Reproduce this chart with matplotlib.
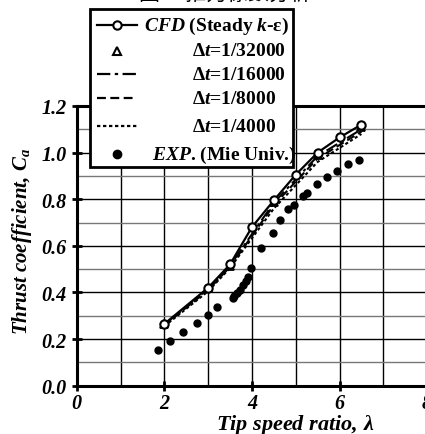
import matplotlib.pyplot as plt
from matplotlib.lines import Line2D
from matplotlib.patches import Rectangle
from matplotlib.ticker import MultipleLocator

plt.rcParams['font.family'] = ['Liberation Serif', 'DejaVu Serif']
plt.rcParams['mathtext.fontset'] = 'custom'
plt.rcParams['mathtext.rm'] = 'Liberation Serif:bold'
plt.rcParams['mathtext.it'] = 'Liberation Serif:italic:bold'
plt.rcParams['mathtext.bf'] = 'Liberation Serif:bold'

# CFD steady k-e
tsr_steady = [2, 3, 3.5, 4, 4.5, 5, 5.5, 6, 6.5]
ca_steady = [0.265, 0.42, 0.52, 0.68, 0.795, 0.905, 1.0, 1.065, 1.12]

# unsteady runs
tsr_unsteady = [2, 3, 3.5, 4.5, 5.5, 6.5]
ca_dt32000 = [0.265, 0.42, 0.515, 0.79, 0.99, 1.11]
ca_dt16000 = [0.262, 0.415, 0.515, 0.785, 0.985, 1.10]
ca_dt8000 = [0.26, 0.41, 0.51, 0.775, 0.975, 1.09]
ca_dt4000 = [0.255, 0.405, 0.505, 0.76, 0.96, 1.08]

# experiment (Mie Univ.)
tsr_exp = [1.86, 2.13, 2.42, 2.74, 3.0, 3.21, 3.56, 3.6, 3.65, 3.73, 3.8, 3.87, 3.92,
           3.99, 4.2, 4.49, 4.65, 4.83, 4.95, 5.17, 5.25, 5.48, 5.71, 5.94, 6.2, 6.45]
ca_exp = [0.153, 0.193, 0.229, 0.269, 0.303, 0.339, 0.378, 0.386, 0.397, 0.412, 0.432,
          0.451, 0.468, 0.505, 0.591, 0.655, 0.711, 0.758, 0.776, 0.815, 0.826, 0.864,
          0.894, 0.923, 0.951, 0.969]

W, H = 425, 435
fig = plt.figure(figsize=(W / 100, H / 100), dpi=100)


def fx(px):
    return px / W


def fy(py):
    return 1 - py / H


ax_h = 386.7 - 107
ax = fig.add_axes([fx(76.7), fy(386.7), 350.4 / W, ax_h / H])

ax.plot(tsr_unsteady, ca_dt16000, color='black', lw=1.5, ls=(0, (6, 2, 1.5, 2)))
ax.plot(tsr_unsteady, ca_dt8000, color='black', lw=1.5, ls=(0, (4, 2)))
ax.plot(tsr_unsteady, ca_dt4000, color='black', lw=1.5, ls=(0, (1.5, 1.2)))
ax.plot(tsr_unsteady, ca_dt32000, ls='none', marker='^', ms=6, mfc='none',
        mec='black', mew=1.3)
ax.plot(tsr_steady, ca_steady, color='black', lw=1.6, marker='o', ms=6,
        mfc='white', mec='black', mew=1.5)
ax.plot(tsr_exp, ca_exp, ls='none', marker='o', ms=5, color='black')

ax.set_xlim(0, 8)
ax.set_ylim(0, 1.2)
ax.xaxis.set_major_locator(MultipleLocator(2))
ax.xaxis.set_minor_locator(MultipleLocator(1))
ax.yaxis.set_major_locator(MultipleLocator(0.2))
ax.yaxis.set_minor_locator(MultipleLocator(0.1))
ax.grid(which='major', color='black', lw=1.0)
ax.grid(which='minor', axis='x', color='black', lw=1.0)
ax.grid(which='minor', axis='y', color='#777777', lw=1.0)
ax.set_axisbelow(True)

for s in ['left', 'bottom', 'top']:
    ax.spines[s].set_linewidth(2.2)
ax.spines['right'].set_visible(False)

ax.tick_params(which='major', direction='inout', length=7, width=2)
ax.tick_params(axis='x', pad=1.5)
ax.tick_params(axis='y', pad=4)
ax.tick_params(which='minor', length=0)
ax.set_xticks([0, 2, 4, 6, 8])
ax.set_xticklabels(['0', '2', '4', '6', '8'])
ax.set_yticks([0, 0.2, 0.4, 0.6, 0.8, 1.0, 1.2])
ax.set_yticklabels(['0.0', '0.2', '0.4', '0.6', '0.8', '1.0', '1.2'])
for lab in ax.get_xticklabels() + ax.get_yticklabels():
    lab.set_fontsize(14.5)
    lab.set_fontstyle('italic')
    lab.set_fontweight('bold')

ax.set_xlabel(r'Tip speed ratio, $\lambda$', fontsize=16, fontstyle='italic',
              fontweight='bold')
ax.xaxis.set_label_coords((295 - 76.7) / 350.4, -(413 - 386.7) / ax_h)
ax.set_ylabel(r'Thrust coefficient, $C_a$', fontsize=15, fontstyle='italic',
              fontweight='bold')
ax.yaxis.set_label_coords(-(76.7 - 34) / 350.4, (386.7 - 242) / ax_h)

# cut-off caption at the top
fig.text(fx(225), fy(5), '圖　 推力係數分析', ha='center', va='bottom', fontsize=15,
         family=['Noto Sans CJK TC', 'DejaVu Sans'])

# legend box
fig.add_artist(Rectangle((fx(90), fy(168)), fx(293) - fx(90), fy(10) - fy(168),
                         transform=fig.transFigure, facecolor='white',
                         edgecolor='black', lw=2, zorder=5))

rows = [26, 52, 75, 99, 127, 155]
kw = dict(transform=fig.transFigure, color='black', zorder=6)
fig.add_artist(Line2D([fx(97), fx(137)], [fy(rows[0])] * 2, lw=1.6, **kw))
fig.add_artist(Line2D([fx(117)], [fy(rows[0])], marker='o', ms=6, mfc='white',
                      mec='black', mew=1.5, **kw))
fig.add_artist(Line2D([fx(117)], [fy(rows[1])], marker='^', ms=6, mfc='none',
                      mec='black', mew=1.5, **kw))
fig.add_artist(Line2D([fx(97), fx(137)], [fy(rows[2])] * 2, lw=1.6,
                      ls=(0, (6, 2, 1.5, 2)), **kw))
fig.add_artist(Line2D([fx(97), fx(137)], [fy(rows[3])] * 2, lw=1.6,
                      ls=(0, (4, 2)), **kw))
fig.add_artist(Line2D([fx(97), fx(137)], [fy(rows[4])] * 2, lw=1.6,
                      ls=(0, (1.5, 1.2)), **kw))
fig.add_artist(Line2D([fx(117)], [fy(rows[5])], marker='o', ms=6, **kw))

labels = [r'$\mathit{CFD}$ (Steady $\mathit{k}$-ε)',
          r'$\Delta t$=1/32000', r'$\Delta t$=1/16000',
          r'$\Delta t$=1/8000', r'$\Delta t$=1/4000',
          r'$\mathit{EXP}$. (Mie Univ.)']
starts = [144, 192, 192, 192, 192, 152]
for lab, x0, y0 in zip(labels, starts, rows):
    fig.text(fx(x0), fy(y0), lab, ha='left', va='center', fontsize=14,
             fontweight='bold', zorder=7)

fig.savefig('out.png', dpi=100)
